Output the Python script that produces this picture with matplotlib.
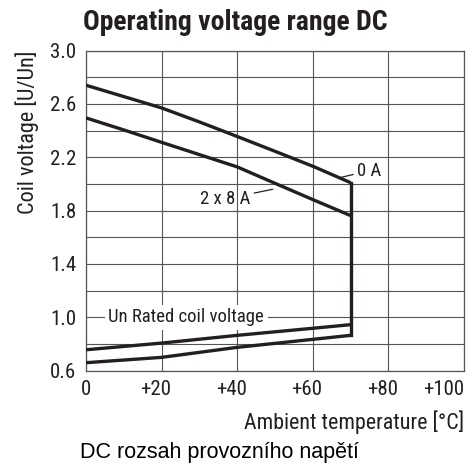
import matplotlib
matplotlib.use("Agg")
import matplotlib.pyplot as plt
import matplotlib.transforms as mtransforms
from matplotlib.ticker import MultipleLocator, FixedLocator

# ---- data ----
temp_hi = [0, 10, 20, 30, 40, 50, 60, 70]
max_0A = [2.74, 2.655, 2.57, 2.465, 2.356, 2.245, 2.133, 2.01]
max_2x8A = [2.495, 2.405, 2.312, 2.22, 2.128, 2.005, 1.883, 1.763]
temp_lo = [0, 20, 40, 60, 70]
min_upper = [0.757, 0.807, 0.865, 0.918, 0.945]
min_lower = [0.66, 0.70, 0.775, 0.835, 0.865]
cutoff_temp = 70
cutoff_range = [2.01, 0.865]

x_ticks = [0, 20, 40, 60, 80, 100]
x_labels = ["0", "+20", "+40", "+60", "+80", "+100"]
y_ticks = [0.6, 1.0, 1.4, 1.8, 2.2, 2.6, 3.0]
y_labels = ["0.6", "1.0", "1.4", "1.8", "2.2", "2.6", "3.0"]

title = "Operating voltage range DC"
caption = "DC rozsah provozního napětí"
xlabel = "Ambient temperature [°C]"
ylabel = "Coil voltage [U/Un]"

narrow = ["Roboto Condensed", "DejaVu Sans"]
plt.rcParams['font.family'] = narrow

fig = plt.figure(figsize=(4.7, 4.66), dpi=100)
ax = fig.add_axes([0.183, 0.2045, 0.804, 0.687])

lc = "#231f20"
lw = 2.4
for xs, ys in [(temp_hi, max_0A), (temp_hi, max_2x8A),
               (temp_lo, min_upper), (temp_lo, min_lower)]:
    ax.plot(xs, ys, color=lc, lw=lw, solid_capstyle='butt',
            solid_joinstyle='round', zorder=3)
ax.plot([cutoff_temp, cutoff_temp], cutoff_range, color=lc, lw=lw,
        solid_capstyle='projecting', zorder=3)

ax.set_xlim(0, 100)
ax.set_ylim(0.6, 3.0)
ax.xaxis.set_major_locator(FixedLocator(x_ticks))
ax.yaxis.set_major_locator(FixedLocator(y_ticks))
ax.yaxis.set_minor_locator(MultipleLocator(0.2))
ax.set_yticklabels(y_labels)
ax.set_xticklabels(x_labels)
ax.grid(True, which='both', color="#555555", lw=0.8)
ax.tick_params(which='both', length=0)
ax.tick_params(axis='y', labelsize=15, pad=7, colors=lc)
ax.tick_params(axis='x', labelsize=15, pad=7, colors=lc)
for s in ax.spines.values():
    s.set_color("#555555")
    s.set_linewidth(0.9)

# shift x labels so the digits center on gridlines
offsets = [0, -6, -6, -6, -6, -20]
for lab, off in zip(ax.get_xticklabels(), offsets):
    lab.set_transform(lab.get_transform() +
                      mtransforms.ScaledTranslation(off / 100, 0, fig.dpi_scale_trans))

ax.text(1.0, -0.16, xlabel, transform=ax.transAxes, ha='right', va='center',
        fontsize=15.8, color=lc)
fig.text(0.058, 0.717, ylabel, rotation=90, ha='center', va='center',
         fontsize=16, color=lc)

# annotations
ax.annotate("0 A", xy=(67.6, 2.05), xytext=(71.8, 2.10), fontsize=13.5, color=lc,
            va='center', ha='left',
            arrowprops=dict(arrowstyle='-', color=lc, lw=0.9, shrinkA=1, shrinkB=0))
ax.annotate("2 x 8 A", xy=(49.4, 1.96), xytext=(43.4, 1.887), fontsize=13.5, color=lc,
            va='center', ha='right',
            arrowprops=dict(arrowstyle='-', color=lc, lw=0.9, shrinkA=1, shrinkB=0))
ax.text(5.9, 1.0, "Un Rated coil voltage", fontsize=13.5, color=lc, va='center', ha='left',
        bbox=dict(facecolor='white', edgecolor='none', pad=2.5), zorder=2)

fig.text(0.5, 0.952, title, ha='center', va='center', fontsize=20,
         fontweight='bold', color=lc)
fig.text(0.466, 0.028, caption, ha='center', va='center', fontsize=15.5,
         family=["Liberation Sans", "DejaVu Sans"], color="black")

fig.savefig("out.png", dpi=100)
